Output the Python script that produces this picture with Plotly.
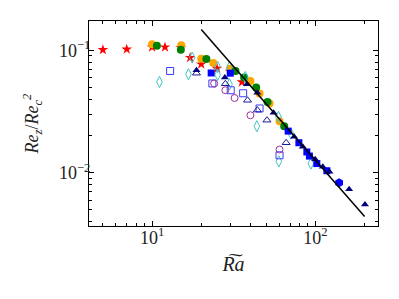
import plotly.graph_objects as go

# ---- data ----
star_x = [5.0, 7.0, 10.0, 12.0, 15.0, 17.1, 20.0, 25.0, 30.0, 35.5]
star_y = [0.101, 0.102, 0.106, 0.106, 0.105, 0.087, 0.077, 0.071, 0.067, 0.055]

orange_x = [10.0, 15.1, 20.0, 23.7, 30.0, 40.0, 45.5, 52.4, 60.3]
orange_y = [0.112, 0.110, 0.0852, 0.0788, 0.0706, 0.0562, 0.0444, 0.0368, 0.0264]

green_x = [10.7, 15.0, 21.5, 32.4, 36.6, 43.4, 50.9, 64.4]
green_y = [0.109, 0.101, 0.0850, 0.0678, 0.0599, 0.0497, 0.0379, 0.0240]

bsq_x = [23.0, 30.1, 68.1, 79.2, 88.6, 91.9, 102.0, 117.5]
bsq_y = [0.0653, 0.0650, 0.0219, 0.0176, 0.0148, 0.0137, 0.0119, 0.0104]

bhex_x = [139.6]
bhex_y = [0.0083]

ntri_x = [18.7, 27.9, 38.1, 44.1, 55.4, 74.1, 83.7, 99.6, 110.9, 121.8, 160.8, 201.0]
ntri_y = [0.0687, 0.0600, 0.0529, 0.0451, 0.0309, 0.0197, 0.0163, 0.0129, 0.0112, 0.0102, 0.00736, 0.00552]

otri_x = [18.7, 28.1, 38.4, 44.1, 50.5, 66.2]
otri_y = [0.0650, 0.0533, 0.0391, 0.0325, 0.0269, 0.0176]

osq_x = [12.9, 23.4, 30.3, 36.1, 45.5, 60.3]
osq_y = [0.0678, 0.0536, 0.0472, 0.0446, 0.0335, 0.0139]

ocirc_x = [24.0, 28.1, 32.0, 40.0, 60.3]
ocirc_y = [0.0536, 0.0472, 0.0408, 0.0295, 0.0155]

dia_x = [11.1, 16.7, 17.6, 25.2, 25.2, 29.8, 29.8, 37.2, 43.8, 59.4, 70.8, 59.7, 93.8]
dia_y = [0.0552, 0.0637, 0.0872, 0.0731, 0.0631, 0.0731, 0.0528, 0.0605, 0.0240, 0.0286, 0.0209, 0.0124, 0.0119]

fit_x = [20.0, 200.0]
fit_y = [0.148, 0.0044]

xticks = [10, 100]
xticktext = ["10<sup>1</sup>", "10<sup>2</sup>"]
yticks = [0.01, 0.1]
yticktext = ["10<sup>\u22122</sup>", "10<sup>\u22121</sup>"]
xminor = [5, 6, 7, 8, 9, 20, 30, 40, 50, 60, 70, 80, 90, 200]
yminor = [0.004, 0.005, 0.006, 0.007, 0.008, 0.009, 0.02, 0.03, 0.04, 0.05, 0.06, 0.07, 0.08, 0.09]

FONT = "Liberation Serif"

fig = go.Figure()


def sc(x, y, symbol, color, size, lw=1.0, line_color=None):
    fig.add_trace(go.Scatter(
        x=x, y=y, mode="markers",
        marker=dict(symbol=symbol, color=color, size=size,
                    line=dict(width=lw, color=line_color or color)),
        showlegend=False))


sc(star_x, star_y, "star", "#ff0000", 8, 0)
sc(orange_x, orange_y, "circle", "#ffa500", 8, 0)
sc(green_x, green_y, "circle", "#008000", 8, 0)
sc(dia_x, dia_y, "diamond-tall-open", "#40c4c4", 8, 1)
sc(osq_x, osq_y, "square-open", "#3a3aff", 7, 1)
sc(ocirc_x, ocirc_y, "circle-open", "#9a329a", 7, 1)
sc(otri_x, otri_y, "triangle-up-open", "#1a1a9a", 7, 1)
sc(bsq_x, bsq_y, "square", "#0000ff", 7, 0)
sc(bhex_x, bhex_y, "hexagon", "#0000ff", 9, 0)
sc(ntri_x, ntri_y, "triangle-up", "#00007f", 7, 0)

fig.add_trace(go.Scatter(x=fit_x, y=fit_y, mode="lines",
                         line=dict(color="black", width=1.5), showlegend=False))

axis_common = dict(
    type="log", showgrid=False, zeroline=False, showline=True, automargin=False,
    linecolor="black", linewidth=1.2, mirror="ticks",
    ticks="inside", ticklen=5, tickwidth=1, tickcolor="black",
)

fig.update_xaxes(
    range=[0.614, 2.383], tickmode="array", tickvals=xticks, ticktext=xticktext,
    ticklabelstandoff=-5,
    tickfont=dict(family=FONT, size=18, color="#222"),
    minor=dict(ticks="inside", ticklen=2.5, tickwidth=0.8, tickcolor="black",
               tickmode="array", tickvals=xminor, showgrid=False),
    title=dict(text="<i>R\u0360a</i>", font=dict(family=FONT, size=20, color="#222"), standoff=10),
    **axis_common)
fig.update_yaxes(
    range=[-2.434, -0.761], tickmode="array", tickvals=yticks, ticktext=yticktext,
    ticklabelstandoff=-6,
    tickfont=dict(family=FONT, size=18, color="#222"),
    minor=dict(ticks="inside", ticklen=2.5, tickwidth=0.8, tickcolor="black",
               tickmode="array", tickvals=yminor, showgrid=False),
    title=dict(text="<i>Re<sub>z</sub></i>/<i>Re<sub>c</sub><sup>2</sup></i>",
               font=dict(family=FONT, size=18, color="#222"), standoff=15),
    **axis_common)

# the page adds an 8 px body margin, so the plot box is shifted back by it
fig.update_layout(
    width=399, height=299,
    margin=dict(l=81, r=29, t=13, b=81),
    plot_bgcolor="white", paper_bgcolor="white",
)

fig.write_html("out.html")
